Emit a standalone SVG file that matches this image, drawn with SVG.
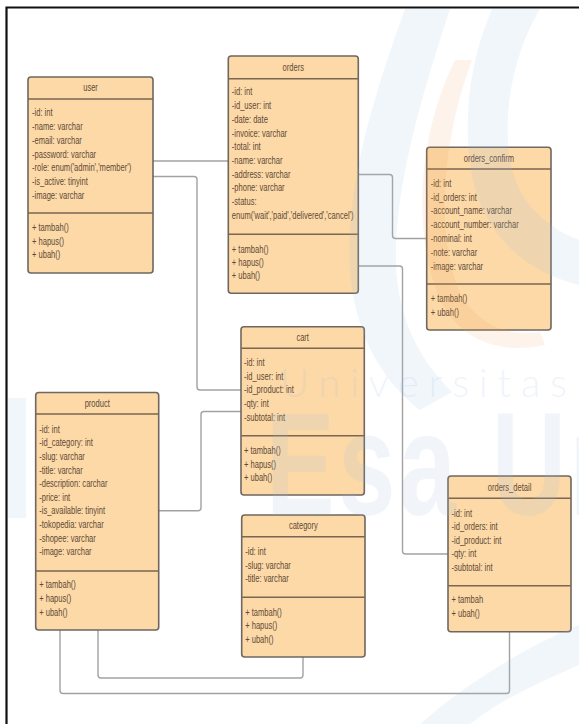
<svg xmlns="http://www.w3.org/2000/svg" width="579" height="724" viewBox="0 0 579 724">
<style>
.box{fill:#fcd9a7;stroke:#6f6760;stroke-width:1.6}
.div{stroke:#7a6652;stroke-width:1.6;fill:none}
.t text{font-family:"Liberation Sans",Arial,sans-serif;font-size:10.5px;fill:#5e4a38}
.t .ttl{text-anchor:middle}
.con{fill:none;stroke:#a2a2a2;stroke-width:1.4;stroke-linejoin:round}
.wm{fill:#9fbde3;opacity:0.14}
.wmo{fill:#f29a55;opacity:0.12}
</style>
<rect x="0" y="0" width="579" height="724" fill="#ffffff"/>
<path d="M6.5,724 V7.5 H579" fill="none" stroke="#111" stroke-width="2.2"/>

<g id="connectors">
<path class="con" d="M153,161 H228.3"/>
<path class="con" d="M153,176.5 H194 Q197,176.5 197,179.5 V387 Q197,390 200,390 H241"/>
<path class="con" d="M358.3,174.5 H389.5 Q392.5,174.5 392.5,177.5 V235.5 Q392.5,238.5 395.5,238.5 H426.7"/>
<path class="con" d="M358.3,266 H399.5 Q402.5,266 402.5,269 V551 Q402.5,554 405.5,554 H448"/>
<path class="con" d="M158.7,510.7 H198 Q201,510.7 201,507.7 V414.5 Q201,411.5 204,411.5 H241"/>
<path class="con" d="M98,630 V675 Q98,678 101,678 H300 Q303,678 303,675 V657"/>
<path class="con" d="M60,630 V690.5 Q60,693.5 63,693.5 H506.5 Q509.5,693.5 509.5,690.5 V631.7"/>
</g>

<g id="user">
<rect class="box" x="28" y="77" width="125" height="196" rx="3"/>
<path class="div" d="M28,99 H153 M28,213 H153"/>
<g class="t" transform="translate(32 0) scale(0.72 1)">
<text class="ttl" x="81.3" y="91.5">user</text>
<text x="0" y="116.5">-id: int</text>
<text x="0" y="130.2">-name: varchar</text>
<text x="0" y="143.9">-email: varchar</text>
<text x="0" y="157.6">-password: varchar</text>
<text x="0" y="171.3">-role: enum('admin','member')</text>
<text x="0" y="185">-is_active: tinyint</text>
<text x="0" y="198.7">-image: varchar</text>
<text x="0" y="231.5">+ tambah()</text>
<text x="0" y="245">+ hapus()</text>
<text x="0" y="258.5">+ ubah()</text>
</g>
</g>

<g id="orders">
<rect class="box" x="228.3" y="56" width="130" height="237.3" rx="3"/>
<path class="div" d="M228.3,78.7 H358.3 M228.3,234.3 H358.3"/>
<g class="t" transform="translate(231.8 0) scale(0.72 1)">
<text class="ttl" x="85.4" y="70.8">orders</text>
<text x="0" y="95.5">-id: int</text>
<text x="0" y="109.2">-id_user: int</text>
<text x="0" y="122.9">-date: date</text>
<text x="0" y="136.6">-invoice: varchar</text>
<text x="0" y="150.3">-total: int</text>
<text x="0" y="164">-name: varchar</text>
<text x="0" y="177.7">-address: varchar</text>
<text x="0" y="191.4">-phone: varchar</text>
<text x="0" y="205.1">-status:</text>
<text x="0" y="218.8">enum('wait','paid','delivered','cancel')</text>
<text x="0" y="252.8">+ tambah()</text>
<text x="0" y="266.2">+ hapus()</text>
<text x="0" y="279.5">+ ubah()</text>
</g>
</g>

<g id="orders_confirm">
<rect class="box" x="426.7" y="147.3" width="124.3" height="182.7" rx="3"/>
<path class="div" d="M426.7,169 H551 M426.7,284 H551"/>
<g class="t" transform="translate(430.7 0) scale(0.72 1)">
<text class="ttl" x="80.8" y="161.7">orders_confirm</text>
<text x="0" y="186.8">-id: int</text>
<text x="0" y="200.6">-id_orders: int</text>
<text x="0" y="214.4">-account_name: varchar</text>
<text x="0" y="228.2">-account_number: varchar</text>
<text x="0" y="242">-nominal: int</text>
<text x="0" y="255.8">-note: varchar</text>
<text x="0" y="269.6">-image: varchar</text>
<text x="0" y="301.8">+ tambah()</text>
<text x="0" y="316.2">+ ubah()</text>
</g>
</g>

<g id="cart">
<rect class="box" x="241" y="326.7" width="123.3" height="168.3" rx="3"/>
<path class="div" d="M241,348.3 H364.3 M241,435.7 H364.3"/>
<g class="t" transform="translate(244 0) scale(0.72 1)">
<text class="ttl" x="81.5" y="341">cart</text>
<text x="0" y="365.8">-id: int</text>
<text x="0" y="379.7">-id_user: int</text>
<text x="0" y="393.5">-id_product: int</text>
<text x="0" y="407.4">-qty: int</text>
<text x="0" y="421.2">-subtotal: int</text>
<text x="0" y="454.5">+ tambah()</text>
<text x="0" y="467.8">+ hapus()</text>
<text x="0" y="481.2">+ ubah()</text>
</g>
</g>

<g id="product">
<rect class="box" x="35.7" y="392.5" width="123" height="237.5" rx="3"/>
<path class="div" d="M35.7,414 H158.7 M35.7,571 H158.7"/>
<g class="t" transform="translate(39.2 0) scale(0.72 1)">
<text class="ttl" x="80.6" y="406.8">product</text>
<text x="0" y="432.8">-id: int</text>
<text x="0" y="446.4">-id_category: int</text>
<text x="0" y="460">-slug: varchar</text>
<text x="0" y="473.6">-title: varchar</text>
<text x="0" y="487.2">-description: carchar</text>
<text x="0" y="500.8">-price: int</text>
<text x="0" y="514.4">-is_available: tinyint</text>
<text x="0" y="528">-tokopedia: varchar</text>
<text x="0" y="541.6">-shopee: varchar</text>
<text x="0" y="555.2">-image: varchar</text>
<text x="0" y="588.5">+ tambah()</text>
<text x="0" y="602">+ hapus()</text>
<text x="0" y="616">+ ubah()</text>
</g>
</g>

<g id="category">
<rect class="box" x="241.7" y="515" width="123.3" height="142" rx="3"/>
<path class="div" d="M241.7,536.7 H365 M241.7,597.3 H365"/>
<g class="t" transform="translate(245.2 0) scale(0.72 1)">
<text class="ttl" x="80.8" y="529.3">category</text>
<text x="0" y="555.2">-id: int</text>
<text x="0" y="569.2">-slug: varchar</text>
<text x="0" y="582.5">-title: varchar</text>
<text x="0" y="615.8">+ tambah()</text>
<text x="0" y="629.5">+ hapus()</text>
<text x="0" y="642.8">+ ubah()</text>
</g>
</g>

<g id="orders_detail">
<rect class="box" x="448" y="476" width="123" height="155.7" rx="3"/>
<path class="div" d="M448,498.3 H571 M448,585.7 H571"/>
<g class="t" transform="translate(451.5 0) scale(0.72 1)">
<text class="ttl" x="80.6" y="490.7">orders_detail</text>
<text x="0" y="516.8">-id: int</text>
<text x="0" y="530.5">-id_orders: int</text>
<text x="0" y="544.2">-id_product: int</text>
<text x="0" y="557.5">-qty: int</text>
<text x="0" y="571.2">-subtotal: int</text>
<text x="0" y="602.8">+ tambah</text>
<text x="0" y="616.8">+ ubah()</text>
</g>
</g>

<g id="watermark">
<path class="wm" d="M405,9 C372,100 345,190 350,270 C354,330 380,380 420,410 L452,392 C420,360 398,320 396,265 C394,190 420,100 450,9 Z"/>
<path class="wm" d="M492,9 C470,60 462,120 472,175 C482,230 520,270 579,285 L579,240 C540,225 515,195 510,160 C502,110 515,50 540,9 Z"/>
<path class="wmo" d="M455,60 C420,130 410,230 440,300 C460,340 500,355 545,345 L540,332 C500,338 472,318 458,288 C436,230 442,140 472,60 Z"/>
<path class="wm" d="M420,724 C470,680 530,645 579,625 L579,665 C540,682 500,700 470,724 Z"/>
<rect class="wm" x="8" y="398" width="18" height="120"/>
<text x="280" y="397" font-family="Lato,'Open Sans',sans-serif" font-weight="300" font-size="40" textLength="287" lengthAdjust="spacing" fill="#9fbde3" opacity="0.16">Universitas</text>
<g transform="translate(266 0) scale(0.7 1)">
<text x="0" y="515" font-family="'Liberation Sans',Arial,sans-serif" font-weight="bold" font-size="147" letter-spacing="5" fill="#9fbde3" opacity="0.14">Esa Un</text>
</g>
</g>
</svg>
